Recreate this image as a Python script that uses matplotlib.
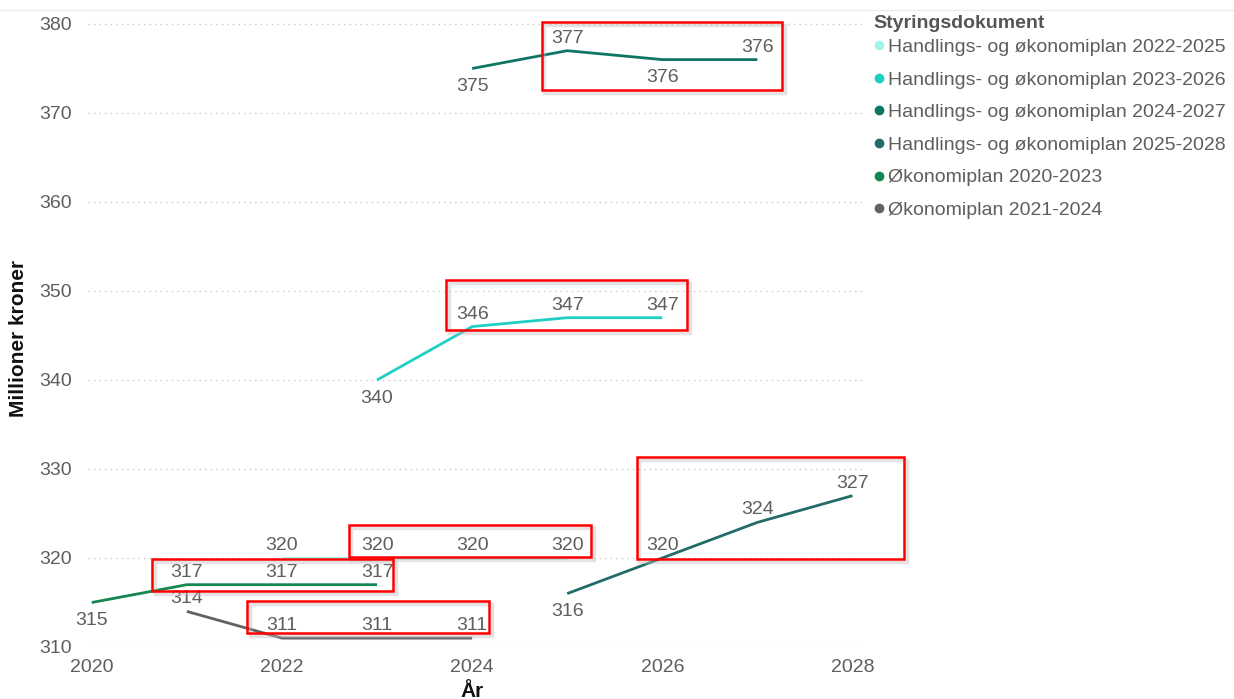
import matplotlib.pyplot as plt
from matplotlib.lines import Line2D
from matplotlib.patches import Rectangle

plt.rcParams['font.family'] = ['Liberation Sans', 'DejaVu Sans']

# plan series: (name, years, values, colour, label side per point)
names = [
    "Handlings- og økonomiplan 2022-2025",
    "Handlings- og økonomiplan 2023-2026",
    "Handlings- og økonomiplan 2024-2027",
    "Handlings- og økonomiplan 2025-2028",
    "Økonomiplan 2020-2023",
    "Økonomiplan 2021-2024",
]
years_2022 = [2022, 2023, 2024, 2025]
vals_2022 = [320, 320, 320, 320]
years_2023 = [2023, 2024, 2025, 2026]
vals_2023 = [340, 346, 347, 347]
years_2024 = [2024, 2025, 2026, 2027]
vals_2024 = [375, 377, 376, 376]
years_2025 = [2025, 2026, 2027, 2028]
vals_2025 = [316, 320, 324, 327]
years_2020 = [2020, 2021, 2022, 2023]
vals_2020 = [315, 317, 317, 317]
years_2021 = [2021, 2022, 2023, 2024]
vals_2021 = [314, 311, 311, 311]

colors = ["#a3f2ec", "#1fcfc4", "#0d7565", "#236b66", "#13874f", "#626262"]
# +1 label above point, -1 below
sides = [
    [1, 1, 1, 1],
    [-1, 1, 1, 1],
    [-1, 1, -1, 1],
    [-1, 1, 1, 1],
    [-1, 1, 1, 1],
    [1, 1, 1, 1],
]
series = [(years_2022, vals_2022), (years_2023, vals_2023), (years_2024, vals_2024),
          (years_2025, vals_2025), (years_2020, vals_2020), (years_2021, vals_2021)]

# highlighted label groups: (x0, x1, y0, y1) in years / million kroner
boxes = [
    (2024.73, 2027.26, 372.6, 380.2),
    (2023.73, 2026.26, 345.6, 351.2),
    (2025.73, 2028.54, 319.9, 331.35),
    (2022.70, 2025.25, 320.1, 323.7),
    (2020.63, 2023.17, 316.3, 319.9),
    (2021.63, 2024.18, 311.6, 315.2),
]

grey = "#605e5c"
fs = 14
fig = plt.figure(figsize=(12.34, 6.99), dpi=100)
ax = fig.add_axes([0.0713, 0.0744, 0.6272, 0.904])

for (xs, ys), c, sd in zip(series, colors, sides):
    ax.plot(xs, ys, color=c, lw=2.0, solid_capstyle='butt', zorder=3)
    for x, y, s in zip(xs, ys, sd):
        off = 9 if s > 0 else -13
        ax.annotate(str(y), (x, y), xytext=(0, off), textcoords='offset points',
                    ha='center', va='center', fontsize=fs, color=grey, zorder=4)

for x0, x1, y0, y1 in boxes:
    ax.add_patch(Rectangle((x0 + 0.03, y0 - 0.35), x1 - x0, y1 - y0, fill=False,
                           edgecolor='#bbbbbb', lw=2.5, alpha=0.4, clip_on=False, zorder=5))
    ax.add_patch(Rectangle((x0, y0), x1 - x0, y1 - y0, fill=False,
                           edgecolor='#ff0000', lw=1.8, clip_on=False, zorder=6))

ax.set_xlim(2019.96, 2028.1)
ax.set_ylim(310, 381)
ax.set_xticks([2020, 2022, 2024, 2026, 2028])
ax.set_yticks(range(310, 381, 10))
ax.tick_params(length=0, labelsize=fs, labelcolor=grey)
ax.tick_params(axis='x', pad=9)
ax.tick_params(axis='y', pad=11.5)
ax.grid(axis='y', color='#c8c8c8', linestyle=(0, (1, 3)), lw=1)
for sp in ax.spines.values():
    sp.set_visible(False)

ax.set_xlabel("År", fontsize=15, fontweight='bold', color='#111111')
ax.set_ylabel("Millioner kroner", fontsize=15, fontweight='bold', color='#111111')
ax.xaxis.set_label_coords(0.496, -0.056)
ax.yaxis.set_label_coords(-0.077, 0.488)

# thin separator line across the top
fig.add_artist(Line2D([0, 1], [0.986, 0.986], transform=fig.transFigure,
                      color='#ececec', lw=1))

fig.text(0.7075, 0.967, "Styringsdokument", fontsize=fs, fontweight='bold',
         color='#555555', ha='left', va='center')
handles = [Line2D([], [], marker='o', linestyle='none', markersize=6,
                  markerfacecolor=c, markeredgecolor=c) for c in colors]
fig.legend(handles, names, loc='upper left', bbox_to_anchor=(0.709, 0.945),
           frameon=False, fontsize=fs, labelcolor=grey,
           handlelength=0.4, handletextpad=0.25, labelspacing=0.77,
           borderaxespad=0, borderpad=0)

fig.savefig("out.png", dpi=100)
